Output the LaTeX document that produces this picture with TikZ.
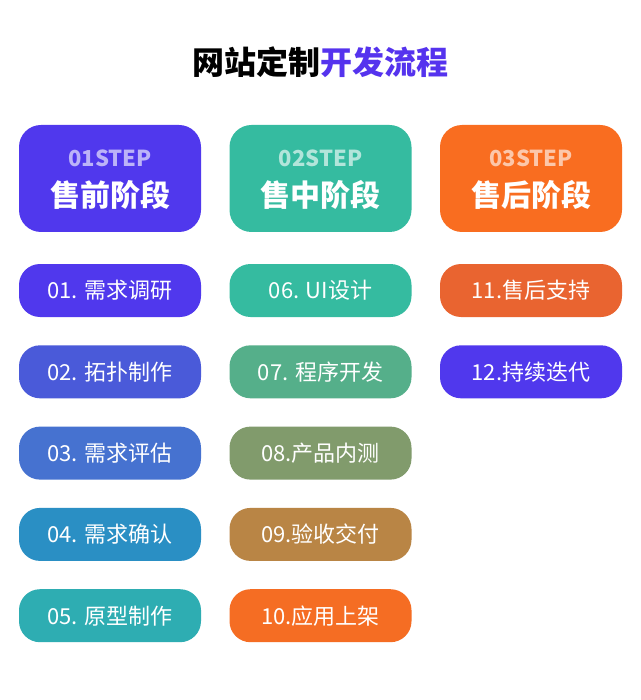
\documentclass[tikz,border=0pt]{standalone}
\usepackage{fontspec}
\usepackage{xcolor}
\newfontfamily\cjk{Noto Sans CJK SC}
\definecolor{titleblue}{HTML}{5533EE}
\definecolor{presale}{HTML}{5038ED}
\definecolor{insale}{HTML}{35BBA0}
\definecolor{aftersale}{HTML}{F96D20}
\definecolor{stepA}{HTML}{5038ED}
\definecolor{stepB}{HTML}{4A5AD9}
\definecolor{stepC}{HTML}{4672D0}
\definecolor{stepD}{HTML}{2A8FC4}
\definecolor{stepE}{HTML}{2EADB2}
\definecolor{stepF}{HTML}{35BBA0}
\definecolor{stepG}{HTML}{55AF8A}
\definecolor{stepH}{HTML}{819B6C}
\definecolor{stepI}{HTML}{B98545}
\definecolor{stepJ}{HTML}{F56D23}
\definecolor{stepK}{HTML}{E96430}
\definecolor{stepL}{HTML}{5038ED}

\begin{document}
\begin{tikzpicture}[x=1pt,y=-1pt]
  \def\x{210.5}
  \def\y{81.3}
  \tikzset{stagebox/.style={fill=#1,rounded corners=22pt,minimum width=182pt,minimum height=107pt,inner sep=0pt}}
  \tikzset{item/.style={fill=#1,rounded corners=21pt,minimum width=182pt,minimum height=53pt,inner sep=0pt,text=white,font=\cjk\fontsize{22}{22}\selectfont}}
  \tikzset{steptag/.style={text=white,text opacity=0.62,font=\cjk\bfseries\fontsize{22}{22}\selectfont}}
  \tikzset{stagename/.style={text=white,font=\cjk\bfseries\fontsize{30}{30}\selectfont}}
  \fill[white] (0,0) rectangle (640,700);
  \useasboundingbox (0,0) rectangle (640,700);
  \node[font=\cjk\bfseries\fontsize{32}{32}\selectfont] (title) at (320,62) {网站定制\textcolor{titleblue}{开发流程}};
  % stage headers
  \node[stagebox=presale] (pre) at (110,178.5) {};
  \node[stagebox=insale] (mid) at (110+\x,178.5) {};
  \node[stagebox=aftersale] (post) at (110+2*\x,178.5) {};
  \node[steptag] (preTag) at (110,158) {01STEP};
  \node[steptag] (midTag) at (110+\x,158) {02STEP};
  \node[steptag] (postTag) at (110+2*\x,158) {03STEP};
  \node[stagename] (preName) at (110,195) {售前阶段};
  \node[stagename] (midName) at (110+\x,195) {售中阶段};
  \node[stagename] (postName) at (110+2*\x,195) {售后阶段};
  % steps
  \node[item=stepA] (s01) at (110,290.5) {01. 需求调研};
  \node[item=stepB] (s02) at (110,290.5+\y) {02. 拓扑制作};
  \node[item=stepC] (s03) at (110,290.5+2*\y) {03. 需求评估};
  \node[item=stepD] (s04) at (110,290.5+3*\y) {04. 需求确认};
  \node[item=stepE] (s05) at (110,290.5+4*\y) {05. 原型制作};
  \node[item=stepF] (s06) at (110+\x,290.5) {06. UI设计};
  \node[item=stepG] (s07) at (110+\x,290.5+\y) {07. 程序开发};
  \node[item=stepH] (s08) at (110+\x,290.5+2*\y) {08.产品内测};
  \node[item=stepI] (s09) at (110+\x,290.5+3*\y) {09.验收交付};
  \node[item=stepJ] (s10) at (110+\x,290.5+4*\y) {10.应用上架};
  \node[item=stepK] (s11) at (110+2*\x,290.5) {11.售后支持};
  \node[item=stepL] (s12) at (110+2*\x,290.5+\y) {12.持续迭代};
\end{tikzpicture}
\end{document}
